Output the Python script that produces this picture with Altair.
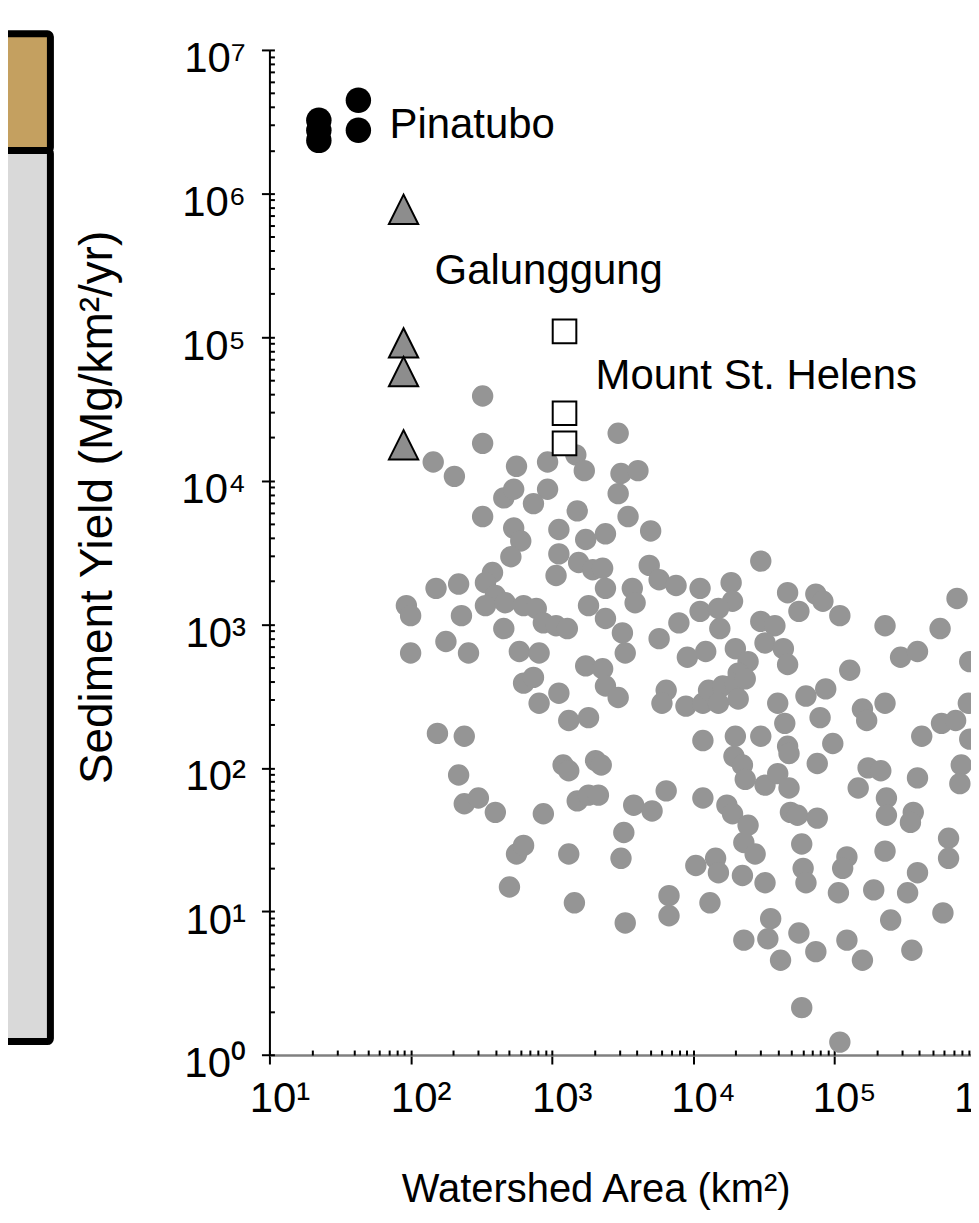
import altair as alt
import numpy as np
import pandas as pd

# ---------------- values (log10 units) ----------------
# grey dots: log10 watershed area (km2) and log10 sediment yield (Mg/km2/yr)
grey_log_area = [
    2.51, 2.51, 2.16, 2.31, 2.75, 2.97, 3.17, 3.23, 3.47, 3.49, 3.61, 3.47, 2.66, 2.73, 2.97, 2.87,
    2.51, 3.18, 3.54, 3.70, 2.73, 2.78, 3.05, 3.24, 3.38, 2.71, 3.05, 3.19, 3.29, 3.36, 2.58, 3.03,
    3.69, 3.76, 2.18, 2.34, 2.53, 2.60, 2.53, 2.67, 1.97, 2.00, 2.36, 2.80, 2.89, 2.94, 3.03, 3.11,
    3.26, 3.38, 3.57, 3.59, 3.38, 3.50, 3.52, 2.25, 2.41, 2.00, 2.66, 2.77, 2.91, 3.24, 3.36, 3.76,
    4.48, 3.88, 4.05, 4.27, 4.28, 4.05, 4.18, 3.90, 4.19, 4.48, 4.58, 4.67, 4.75, 4.87, 4.92, 5.04,
    5.36, 5.87, 5.75, 5.47, 5.59, 5.96, 3.96, 4.09, 4.30, 4.39, 4.51, 4.64, 4.67, 5.11, 4.32,
    3.81, 3.95, 4.07, 4.11, 4.21, 4.30, 4.37, 4.18, 4.32, 4.60, 4.80, 4.94, 4.65, 4.67, 4.68, 4.90,
    4.99, 4.88, 5.20, 5.23, 5.36, 5.62, 5.76, 5.86, 5.95, 5.96, 4.07, 4.30, 4.29, 4.35, 4.37, 4.48,
    4.51, 4.60, 4.68, 5.24, 5.33, 5.17, 5.59, 5.90, 5.89, 5.37, 5.37, 5.56, 5.54, 4.07, 4.24, 4.28,
    4.39, 4.36, 4.44, 4.69, 4.74, 4.88, 4.77, 5.09, 5.06, 5.36, 5.81, 5.81, 5.59, 4.02, 4.16, 4.18,
    4.35, 4.51, 4.78, 4.80, 5.03, 5.28, 5.52, 5.77, 3.83, 3.83, 4.12, 5.40, 4.55, 4.53, 4.36, 4.75,
    4.87, 5.09, 4.62, 5.20, 5.55, 4.77, 5.04,
    2.80, 2.87, 2.91, 3.05, 3.12, 3.26, 3.38, 3.47, 3.78, 2.19, 2.38, 2.34, 2.38, 2.48, 2.60, 2.94,
    3.08, 3.12, 3.31, 3.35, 3.18, 3.26, 3.33, 3.58, 3.71, 3.81, 3.51, 3.49, 2.75, 2.80, 3.12, 2.70,
    3.16, 3.52,
]
grey_log_yield = [
    4.59, 4.26, 4.13, 4.03, 4.10, 4.13, 4.18, 4.07, 4.33, 4.05, 4.07, 3.91, 3.88, 3.94, 3.94, 3.84,
    3.75, 3.79, 3.75, 3.65, 3.67, 3.58, 3.66, 3.59, 3.63, 3.47, 3.49, 3.43, 3.38, 3.39, 3.36, 3.34,
    3.41, 3.31, 3.25, 3.28, 3.29, 3.20, 3.13, 3.15, 3.13, 3.06, 3.06, 3.13, 3.11, 3.01, 2.99, 2.97,
    3.13, 3.25, 3.25, 3.15, 3.04, 2.94, 2.80, 2.88, 2.80, 2.80, 2.97, 2.81, 2.80, 2.71, 2.69, 2.90,
    3.44, 3.27, 3.25, 3.29, 3.16, 3.09, 3.11, 3.01, 2.97, 3.02, 2.99, 3.22, 3.09, 3.21, 3.16, 3.06,
    2.99, 3.18, 2.97, 2.77, 2.81, 2.74, 2.77, 2.81, 2.83, 2.74, 2.87, 2.83, 2.72, 2.68, 2.66,
    2.54, 2.43, 2.45, 2.54, 2.57, 2.59, 2.62, 2.45, 2.48, 2.45, 2.50, 2.55, 2.31, 2.15, 2.10, 2.35,
    2.17, 2.03, 2.41, 2.33, 2.45, 2.22, 2.31, 2.33, 2.45, 2.20, 2.19, 2.22, 2.08, 2.02, 1.92, 2.22,
    1.88, 1.96, 1.86, 2.00, 1.98, 1.86, 1.93, 2.02, 1.89, 1.79, 1.67, 1.69, 1.62, 1.79, 1.74, 1.68,
    1.60, 1.48, 1.40, 1.69, 1.67, 1.65, 1.47, 1.38, 1.30, 1.42, 1.51, 1.37, 1.27, 1.32, 1.37, 1.27,
    1.25, 1.20, 1.30, 1.20, 1.13, 1.15, 1.13, 0.99, 1.11, 0.97, 1.06, 0.94, 0.95, 0.81, 0.80, 0.85,
    0.72, 0.80, 0.66, 0.66, 0.73, 0.33, 0.09,
    2.59, 2.63, 2.45, 2.52, 2.33, 2.35, 2.57, 2.49, 2.45, 2.24, 2.22, 1.95, 1.75, 1.79, 1.69, 1.68,
    2.02, 1.98, 2.05, 2.02, 1.77, 1.81, 1.81, 1.74, 1.70, 1.84, 1.55, 1.37, 1.40, 1.46, 1.40, 1.17,
    1.06, 0.92,
]

pinatubo_log_area = [1.35, 1.35, 1.35, 1.63, 1.63]
pinatubo_log_yield = [6.51, 6.44, 6.37, 6.65, 6.44]

galunggung_log_area = [1.95, 1.95, 1.95, 1.95]
galunggung_log_yield = [5.89, 4.96, 4.76, 4.25]

helens_log_area = [3.09, 3.09, 3.09]
helens_log_yield = [5.04, 4.47, 4.26]

label_text = ["Pinatubo", "Galunggung", "Mount St. Helens"]
label_log_area = [1.85, 2.17, 3.31]
label_log_yield = [6.48, 5.46, 4.73]

x_major_exp = [1, 2, 3, 4, 5, 6]
y_major_exp = [0, 1, 2, 3, 4, 5, 6, 7]
minor_mult = [1, 2, 3, 4, 5, 6, 7, 8, 9]
x_domain_exp = [1, 6.6]
y_domain_exp = [0, 7]

# neighbouring (cropped) panel on the left: header band and body
box_part = ["header", "body"]
box_top = [0.0, 0.1158]
box_bottom = [0.1158, 1.0]
box_fill = ["#C4A060", "#D9D9D9"]

SUP = dict(zip("0123456789", "⁰¹²³⁴⁵⁶⁷⁸⁹"))
FONT = "Liberation Sans"

# ---------------- layout constants ----------------
decade_w = 141.5
decade_h = 143.9
plot_w = (x_domain_exp[1] - x_domain_exp[0]) * decade_w
plot_h = (y_domain_exp[1] - y_domain_exp[0]) * decade_h
left_w = 64
gap = 219.5


def pow10(v):
    return list(10.0 ** np.array(v, dtype=float))


def label_expr(exps):
    parts = [f"round(log(datum.value)/LN10) == {e} ? '10{SUP[str(e)]}'" for e in exps]
    return " : ".join(parts) + " : ''"


grey_df = pd.DataFrame({"area": pow10(grey_log_area), "yield": pow10(grey_log_yield)})
pin_df = pd.DataFrame({"area": pow10(pinatubo_log_area), "yield": pow10(pinatubo_log_yield)})
gal_df = pd.DataFrame({"area": pow10(galunggung_log_area), "yield": pow10(galunggung_log_yield)})
msh_df = pd.DataFrame({"area": pow10(helens_log_area), "yield": pow10(helens_log_yield)})
lab_df = pd.DataFrame({"name": label_text, "area": pow10(label_log_area), "yield": pow10(label_log_yield)})

x_major = [10.0 ** e for e in x_major_exp]
y_major = [10.0 ** e for e in y_major_exp]
x_ticks_all = [m * 10.0 ** e for e in range(1, 7) for m in minor_mult
               if m * 10.0 ** e <= 10.0 ** x_domain_exp[1]]
y_ticks_all = [m * 10.0 ** e for e in range(0, 7) for m in minor_mult] + [1e7]

xs = alt.Scale(type="log", domain=[10.0 ** x_domain_exp[0], 10.0 ** x_domain_exp[1]], nice=False)
ys = alt.Scale(type="log", domain=[10.0 ** y_domain_exp[0], 10.0 ** y_domain_exp[1]], nice=False)

x_main_axis = alt.Axis(
    values=x_major, labelExpr=label_expr(x_major_exp), grid=False,
    tickSize=9, tickWidth=2, tickColor="black",
    domainColor="#808080", domainWidth=2.5,
    labelFontSize=42, labelPadding=15, labelOffset=10, labelColor="black", labelFont=FONT,
    labelFlush=False, labelOverlap=False,
    title="Watershed Area (km²)", titleFontSize=40, titleFontWeight="normal",
    titleColor="black", titleFont=FONT,
    titleX=327, titleY=147, titleBaseline="alphabetic", titleAlign="center",
)
y_main_axis = alt.Axis(
    values=y_major, labelExpr=label_expr(y_major_exp), grid=False,
    tickSize=8, tickWidth=2, tickColor="black",
    domainColor="black", domainWidth=2,
    labelFontSize=42, labelPadding=16, labelOffset=9, labelColor="black", labelFont=FONT,
    labelFlush=False, labelOverlap=False,
    title="Sediment Yield (Mg/km²/yr)", titleFontSize=46, titleFontWeight="normal",
    titleColor="black", titleFont=FONT,
    titleX=-158, titleY=458, titleBaseline="alphabetic", titleAlign="center", titleAngle=270,
)
# inward-pointing ticks (minor and major) drawn by axes moved onto the plot edges
x_inner_axis = alt.Axis(
    orient="top", offset=-plot_h, values=x_ticks_all, labels=False, domain=False, grid=False,
    tickSize=5, tickWidth=2, tickColor="black", title=None,
)
y_inner_axis = alt.Axis(
    orient="right", offset=-plot_w, values=y_ticks_all, labels=False, domain=False, grid=False,
    tickSize=5, tickWidth=2, tickColor="black", title=None,
)

grey = alt.Chart(grey_df).mark_circle(size=460, color="#959595", opacity=1).encode(
    x=alt.X("area:Q", scale=xs, axis=x_main_axis),
    y=alt.Y("yield:Q", scale=ys, axis=y_main_axis),
)
tri = alt.Chart(gal_df).mark_point(
    shape="M0,-1L1,1L-1,1Z", filled=True, fill="#8D8D8D", stroke="black",
    strokeWidth=2, size=860, opacity=1,
).encode(
    x=alt.X("area:Q", scale=xs, axis=x_inner_axis),
    y=alt.Y("yield:Q", scale=ys, axis=y_inner_axis),
)
sq = alt.Chart(msh_df).mark_point(
    shape="square", filled=True, fill="white", stroke="black", strokeWidth=2, size=560, opacity=1,
).encode(
    x=alt.X("area:Q", scale=xs, axis=None),
    y=alt.Y("yield:Q", scale=ys, axis=None),
)
pin = alt.Chart(pin_df).mark_circle(size=650, color="black", opacity=1).encode(
    x=alt.X("area:Q", scale=xs, axis=None),
    y=alt.Y("yield:Q", scale=ys, axis=None),
)
txt = alt.Chart(lab_df).mark_text(
    align="left", baseline="middle", fontSize=42, font=FONT, color="black",
).encode(
    x=alt.X("area:Q", scale=xs, axis=None),
    y=alt.Y("yield:Q", scale=ys, axis=None),
    text="name:N",
)

main = alt.layer(grey, tri, sq, pin, txt).resolve_axis(x="independent", y="independent").properties(
    width=plot_w, height=plot_h
)

box_df = pd.DataFrame({"part": box_part, "top": box_top, "bottom": box_bottom,
                       "left": [0.0, 0.0], "right": [1.0, 1.0], "fill": box_fill})
left = alt.Chart(box_df).mark_rect(stroke="black", strokeWidth=7, cornerRadius=3).encode(
    x=alt.X("left:Q", scale=alt.Scale(domain=[0, 1]), axis=None),
    x2="right:Q",
    y=alt.Y("top:Q", scale=alt.Scale(domain=[0, 1], range=[-16.2, 993.8]), axis=None),
    y2="bottom:Q",
    fill=alt.Fill("fill:N", scale=None),
).properties(width=left_w, height=plot_h)

# negative paddings crop the neighbouring panel on the left and the far end of the
# x axis on the right, as in the original figure
chart = alt.hconcat(left, main, spacing=gap, bounds="flush").properties(
    padding={"left": -25.5, "top": 20.7, "right": -89.4, "bottom": 0},
    background="white",
).configure(
    font=FONT,
    view=alt.ViewConfig(stroke="transparent", strokeWidth=0),
)

chart.save("out.html", embed_options={"renderer": "svg", "actions": False})
